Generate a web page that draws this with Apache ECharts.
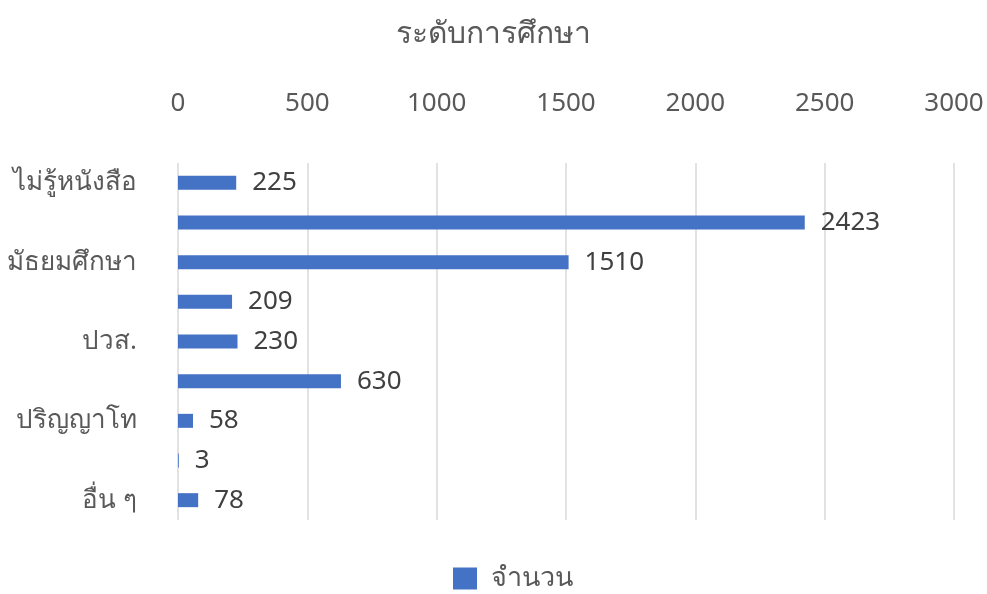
<!DOCTYPE html>
<html><head><meta charset="utf-8">
<script src="https://cdn.jsdelivr.net/npm/echarts@6/dist/echarts.min.js"></script>
<style>html,body{margin:0;padding:0;background:#fff}#c{width:987px;height:594px}</style>
</head><body><div id="c"></div>
<script>
const categories = ['ไม่รู้หนังสือ','ประถมศึกษา','มัธยมศึกษา','ปวช.','ปวส.','ปริญญาตรี','ปริญญาโท','ปริญญาเอก','อื่น ๆ'];
const values = [225, 2423, 1510, 209, 230, 630, 58, 3, 78];
const seriesName = 'จำนวน';
const titleText = 'ระดับการศึกษา';
const FONT = '"Noto Sans", sans-serif';
const chart = echarts.init(document.getElementById('c'));
chart.setOption({
  animation: false,
  textStyle: {fontFamily: FONT},
  title: {text: titleText, left: 'center', top: 14, textStyle: {fontFamily: FONT, fontSize: 30, fontWeight: 'normal', color: '#595959'}},
  legend: {top: 565, left: 453, padding: 0, itemWidth: 24, itemHeight: 22, icon: 'rect', itemGap: 10,
    textStyle: {fontFamily: FONT, fontSize: 27, color: '#595959', padding: [0, 0, 0, 9]}},
  grid: {left: 178, right: 33, top: 163, bottom: 74, containLabel: false},
  xAxis: {type: 'value', position: 'top', min: 0, max: 3000, interval: 500,
    axisLine: {show: false}, axisTick: {show: false},
    axisLabel: {fontFamily: FONT, fontSize: 26, color: '#595959', margin: 46, formatter: v => String(v)},
    splitLine: {lineStyle: {color: '#d9d9d9', width: 1.5}}},
  yAxis: {type: 'category', data: categories, inverse: true,
    axisLine: {show: false}, axisTick: {show: false},
    axisLabel: {interval: 1, fontFamily: FONT, fontSize: 26, color: '#595959', margin: 41}},
  series: [{name: seriesName, type: 'bar', data: values, barWidth: 14,
    itemStyle: {color: '#4472c4'},
    label: {show: true, position: 'right', distance: 16, fontFamily: FONT, fontSize: 26, color: '#404040'}}]
});
</script></body></html>
